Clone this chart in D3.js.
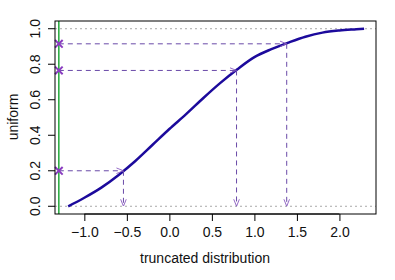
<!DOCTYPE html>
<html>
<head>
<meta charset="utf-8" />
<title>Inverse transform sampling</title>
<style>
  body { margin: 0; background: #fff; }
  text { font-family: Arial, "Liberation Sans", sans-serif; fill: #111; }
</style>
</head>
<body>
<svg></svg>
<script src="https://d3js.org/d3.v7.min.js"></script>
<script>
// CDF of the truncated distribution
var cdfX = [-1.19, -1.0, -0.8, -0.6, -0.4, -0.2, 0.0, 0.2, 0.4, 0.6, 0.8, 1.0, 1.2, 1.4, 1.6, 1.8, 2.0, 2.2, 2.29];
var cdfY = [0, 0.048, 0.105, 0.175, 0.255, 0.345, 0.435, 0.52, 0.61, 0.695, 0.772, 0.84, 0.885, 0.922, 0.955, 0.978, 0.99, 0.997, 1.0];

// sampled uniforms and their inverse
var uValues = [0.2, 0.765, 0.915];
var xValues = [-0.54, 0.79, 1.38];
var lowerBound = -1.3;

var xTicks = [-1.0, -0.5, 0.0, 0.5, 1.0, 1.5, 2.0];
var yTicks = [0.0, 0.2, 0.4, 0.6, 0.8, 1.0];

var width = 395, height = 280;
var plotL = 55, plotR = 376, plotT = 21, plotB = 214;

var svg = d3.select("svg").attr("width", width).attr("height", height);

var x = d3.scaleLinear().domain([-1.345, 2.43]).range([plotL, plotR]);
var y = d3.scaleLinear().domain([-0.0435, 1.0435]).range([plotB, plotT]);

var purple = "#6a4aa8";

svg.append("defs").append("marker")
  .attr("id", "head")
  .attr("viewBox", "0 0 10 10")
  .attr("refX", 10).attr("refY", 5)
  .attr("markerWidth", 7).attr("markerHeight", 7)
  .attr("markerUnits", "userSpaceOnUse")
  .attr("orient", "auto")
  .append("path")
  .attr("d", "M0,1 L10,5 L0,9")
  .attr("fill", "none")
  .attr("stroke", "#8a5cc0")
  .attr("stroke-width", 1.3);

// dotted reference lines at 0 and 1
svg.selectAll(".ref")
  .data([0, 1])
  .enter().append("line")
  .attr("x1", plotL).attr("x2", plotR)
  .attr("y1", d => y(d)).attr("y2", d => y(d))
  .attr("stroke", "#aaa")
  .attr("stroke-dasharray", "2,3");

// green lower bound
svg.append("line")
  .attr("x1", x(lowerBound)).attr("x2", x(lowerBound))
  .attr("y1", plotT).attr("y2", plotB)
  .attr("stroke", "#22a83a")
  .attr("stroke-width", 1.5);

// curve
var pts = cdfX.map((v, i) => [v, cdfY[i]]);
svg.append("path")
  .datum(pts)
  .attr("fill", "none")
  .attr("stroke", "#1c0a9c")
  .attr("stroke-width", 2.5)
  .attr("d", d3.line().x(d => x(d[0])).y(d => y(d[1])).curve(d3.curveMonotoneX));

// arrows: horizontal then down
var arrows = svg.append("g");
uValues.forEach(function (u, i) {
  arrows.append("line")
    .attr("x1", x(lowerBound)).attr("y1", y(u))
    .attr("x2", x(xValues[i])).attr("y2", y(u))
    .attr("stroke", purple).attr("stroke-width", 1)
    .attr("stroke-dasharray", "5,4")
    .attr("marker-end", "url(#head)");
  arrows.append("line")
    .attr("x1", x(xValues[i])).attr("y1", y(u))
    .attr("x2", x(xValues[i])).attr("y2", y(0))
    .attr("stroke", purple).attr("stroke-width", 1)
    .attr("stroke-dasharray", "5,4")
    .attr("marker-end", "url(#head)");
});

// crosses on the green line
svg.selectAll(".cross")
  .data(uValues)
  .enter().append("path")
  .attr("d", d3.symbol().type(d3.symbolX).size(40))
  .attr("transform", d => "translate(" + x(lowerBound) + "," + y(d) + ")")
  .attr("fill", "none")
  .attr("stroke", "#8a3cc0")
  .attr("stroke-width", 2);

// box
svg.append("rect")
  .attr("x", plotL).attr("y", plotT)
  .attr("width", plotR - plotL).attr("height", plotB - plotT)
  .attr("fill", "none").attr("stroke", "#000");

// axes
var xAxis = svg.append("g")
  .attr("transform", "translate(0," + plotB + ")")
  .call(d3.axisBottom(x).tickValues(xTicks).tickFormat(d3.format(".1f")).tickSize(7).tickPadding(6));
var yAxis = svg.append("g")
  .attr("transform", "translate(" + plotL + ",0)")
  .call(d3.axisLeft(y).tickValues(yTicks).tickFormat(d3.format(".1f")).tickSize(7).tickPadding(5));

[xAxis, yAxis].forEach(function (g) {
  g.select(".domain").remove();
  g.selectAll("text").attr("font-size", 14).attr("fill", "#111").attr("font-family", "Arial, 'Liberation Sans', sans-serif");
  g.selectAll("line").attr("stroke", "#000");
});
xAxis.append("line").attr("x1", x(-1)).attr("x2", x(2)).attr("stroke", "#000");
yAxis.selectAll("text")
  .attr("text-anchor", "middle")
  .attr("dy", null)
  .attr("x", 0).attr("y", 0)
  .attr("transform", d => "translate(-20," + (y(d) - plotT) + ") rotate(-90)")
  .attr("dominant-baseline", "central");
yAxis.selectAll(".tick").attr("transform", "translate(0," + plotT + ")");
yAxis.selectAll(".tick line").attr("y1", (d) => y(d) - plotT).attr("y2", (d) => y(d) - plotT);

svg.append("text")
  .attr("x", 205).attr("y", 263)
  .attr("text-anchor", "middle")
  .attr("font-size", 14)
  .text("truncated distribution");

svg.append("text")
  .attr("transform", "translate(18,117) rotate(-90)")
  .attr("text-anchor", "middle")
  .attr("font-size", 14)
  .text("uniform");
</script>
</body>
</html>
